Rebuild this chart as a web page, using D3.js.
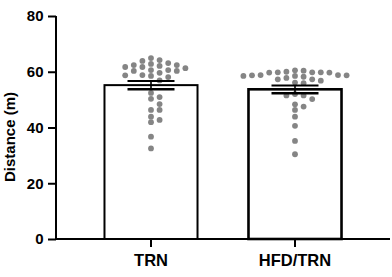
<!DOCTYPE html>
<html>
<head>
<meta charset="utf-8">
<script src="https://cdn.jsdelivr.net/npm/d3@7"></script>
<style>
  html, body { margin: 0; padding: 0; background: #fff; }
  svg { display: block; }
</style>
</head>
<body>
<svg id="chart" width="392" height="277"></svg>
<script>
// ---- data ----
const categories = ["TRN", "HFD/TRN"];
const means = [55.2, 53.7];
const sems = [1.5, 1.4];
const trnValues = [64.9, 64.2, 63.9, 63.1, 62.8, 62.4, 62.4, 62.1, 61.7, 61.7, 61.3,
  60.6, 60.6, 60.3, 60.3, 59.6, 58.8, 58.7, 58.5, 58.1, 56.9, 52.4, 50.9, 50.3,
  48.4, 46.3, 46.3, 43.9, 42.7, 41.9, 36.7, 32.5];
const hfdTrnValues = [60.5, 60.4, 60.0, 59.8, 59.8, 59.8, 59.7, 59.7, 58.8, 58.8,
  58.7, 58.7, 58.5, 58.5, 58.2, 57.8, 57.3, 57.3, 56.8, 56.1, 55.9, 52.0, 51.5,
  51.5, 50.2, 48.3, 47.5, 46.3, 43.9, 40.6, 35.2, 30.4];
const yTicks = [0, 20, 40, 60, 80];
const yLabel = "Distance (m)";

const seriesPoints = [trnValues, hfdTrnValues];

// ---- layout ----
const svg = d3.select("#chart");
const axisX = 56, axisRight = 390, plotTop = 16, plotBottom = 239;
const font = "'Liberation Sans', Arial, Helvetica, sans-serif";

const y = d3.scaleLinear().domain([0, 80]).range([plotBottom, plotTop]);
const x = d3.scaleBand().domain(categories).range([79, 367])
  .paddingInner(0.354).paddingOuter(0.177);

// bars
const barStroke = [2, 2.6];
svg.append("g").selectAll("rect").data(categories).join("rect")
  .attr("x", d => x(d))
  .attr("y", (d, i) => y(means[i]))
  .attr("width", x.bandwidth())
  .attr("height", (d, i) => y(0) - y(means[i]))
  .attr("fill", "#fff")
  .attr("stroke", "#000")
  .attr("stroke-width", (d, i) => barStroke[i]);

// beeswarm placement (deterministic)
const r = 2.9, stepX = 4.3, minDx = 8.2, minDy = 5.4;
function swarm(values, cx) {
  const order = values.map((v, i) => i).sort((a, b) => values[b] - values[a]);
  const placed = [];
  const out = new Array(values.length);
  order.forEach(i => {
    const py = y(values[i]);
    let px = cx;
    for (let n = 0; n < 60; n++) {
      const off = (n === 0) ? 0 : (n % 2 === 1 ? 1 : -1) * Math.ceil(n / 2) * stepX;
      const cand = cx + off;
      const hit = placed.some(p => Math.abs(p.x - cand) < minDx && Math.abs(p.y - py) < minDy);
      if (!hit) { px = cand; break; }
    }
    placed.push({ x: px, y: py });
    out[i] = { x: px, y: py };
  });
  return out;
}

const dotsG = svg.append("g");
categories.forEach((c, ci) => {
  const pts = swarm(seriesPoints[ci], x(c) + x.bandwidth() / 2);
  dotsG.append("g").selectAll("circle").data(pts).join("circle")
    .attr("cx", d => d.x).attr("cy", d => d.y).attr("r", r)
    .attr("fill", "#858585");
});

// error bars
const capW = 47;
const eg = svg.append("g").attr("stroke", "#000");
categories.forEach((c, i) => {
  const cx = x(c) + x.bandwidth() / 2;
  const hi = y(means[i] + sems[i]), lo = y(means[i] - sems[i]);
  eg.append("line").attr("x1", cx).attr("x2", cx).attr("y1", hi).attr("y2", lo).attr("stroke-width", 1.6);
  eg.append("line").attr("x1", cx - capW / 2).attr("x2", cx + capW / 2).attr("y1", hi).attr("y2", hi).attr("stroke-width", 2);
  eg.append("line").attr("x1", cx - capW / 2).attr("x2", cx + capW / 2).attr("y1", lo).attr("y2", lo).attr("stroke-width", 2.4);
});

// y axis
const yAxis = svg.append("g").attr("transform", `translate(${axisX},0)`)
  .call(d3.axisLeft(y).tickValues(yTicks).tickSize(8).tickPadding(4.5).tickSizeOuter(0));
yAxis.select(".domain").attr("stroke-width", 2).attr("d", `M0,${plotTop}V${plotBottom + 1}`);
yAxis.selectAll(".tick line").attr("stroke-width", 2);
yAxis.selectAll("text").attr("font-family", font).attr("font-size", 15)
  .attr("font-weight", "bold").attr("fill", "#000");

// x axis
const xAxis = svg.append("g").attr("transform", `translate(0,${plotBottom})`)
  .call(d3.axisBottom(x).tickSize(8).tickPadding(7.5).tickSizeOuter(0));
xAxis.select(".domain").attr("stroke-width", 2).attr("d", `M${axisX - 1},0H${axisRight}`);
xAxis.selectAll(".tick line").attr("stroke-width", 2);
xAxis.selectAll("text").attr("font-family", font).attr("font-size", 16.5)
  .attr("font-weight", "bold").attr("fill", "#000");

// y label
svg.append("text")
  .attr("transform", `translate(14.5,137) rotate(-90)`)
  .attr("text-anchor", "middle")
  .attr("font-family", font).attr("font-size", 15).attr("font-weight", "bold")
  .text(yLabel);
</script>
</body>
</html>
